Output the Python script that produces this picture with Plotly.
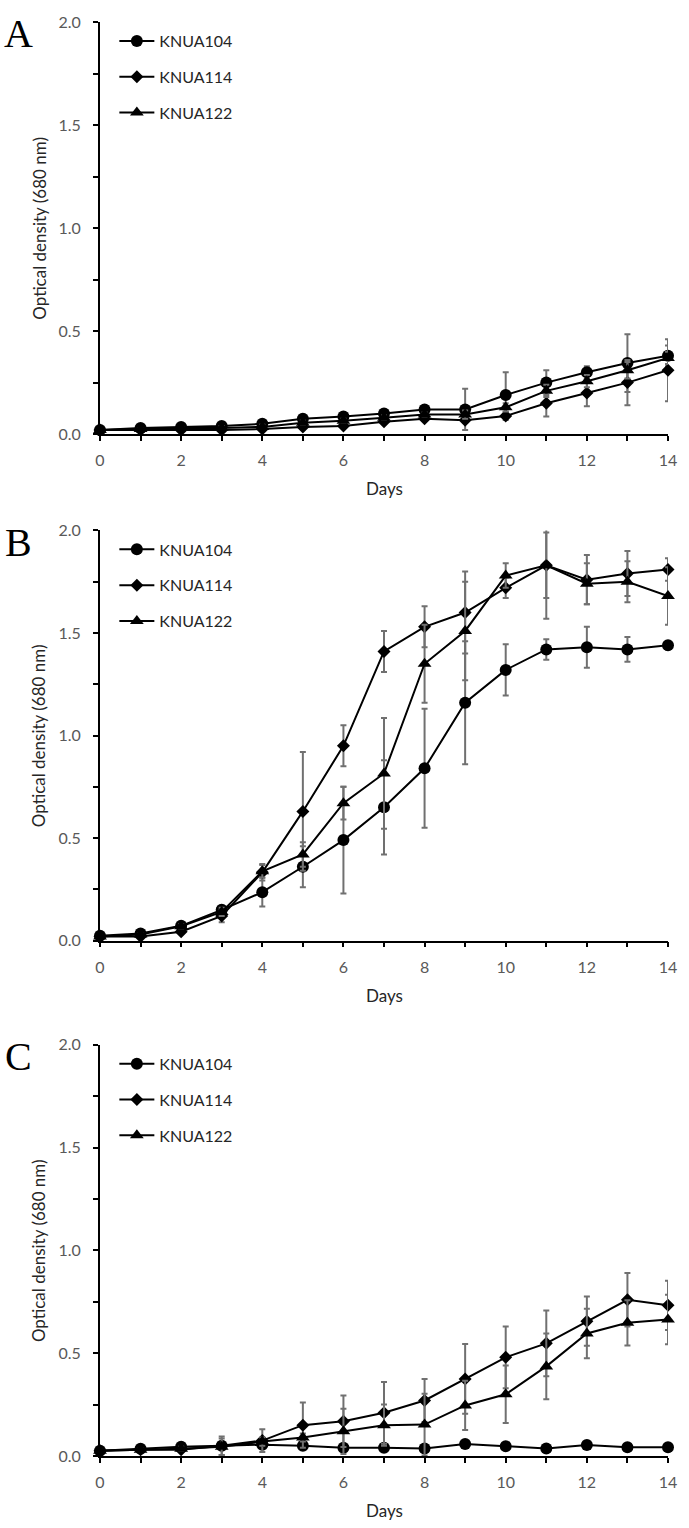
import plotly.graph_objects as go
from plotly.subplots import make_subplots

days = list(range(15))
strains = ["KNUA104", "KNUA114", "KNUA122"]
panels = ["A", "B", "C"]

# panel A
a_104 = [0.02, 0.03, 0.035, 0.04, 0.05, 0.075, 0.085, 0.10, 0.12, 0.12, 0.19, 0.25, 0.30, 0.345, 0.38]
a_104_err = [0.005, 0.005, 0.005, 0.01, 0.01, 0.01, 0.01, 0.01, 0.01, 0.10, 0.11, 0.06, 0.03, 0.14, 0.05]
a_114 = [0.02, 0.02, 0.02, 0.02, 0.025, 0.035, 0.04, 0.06, 0.075, 0.067, 0.088, 0.15, 0.20, 0.25, 0.31]
a_114_err = [0.005, 0.005, 0.005, 0.005, 0.005, 0.01, 0.01, 0.01, 0.01, 0.01, 0.02, 0.065, 0.065, 0.11, 0.15]
a_122 = [0.02, 0.025, 0.03, 0.03, 0.035, 0.055, 0.065, 0.08, 0.095, 0.095, 0.13, 0.21, 0.257, 0.31, 0.37]
a_122_err = [0.005, 0.005, 0.005, 0.01, 0.01, 0.01, 0.01, 0.01, 0.01, 0.02, 0.02, 0.03, 0.03, 0.04, 0.03]

# panel B
b_104 = [0.024, 0.035, 0.072, 0.15, 0.236, 0.36, 0.49, 0.65, 0.84, 1.16, 1.32, 1.42, 1.43, 1.42, 1.44]
b_104_err = [0.005, 0.005, 0.01, 0.02, 0.07, 0.10, 0.26, 0.23, 0.29, 0.30, 0.125, 0.05, 0.10, 0.06, 0.02]
b_114 = [0.02, 0.02, 0.043, 0.12, 0.333, 0.63, 0.95, 1.41, 1.53, 1.60, 1.72, 1.83, 1.76, 1.79, 1.81]
b_114_err = [0.005, 0.005, 0.01, 0.03, 0.04, 0.29, 0.10, 0.10, 0.10, 0.20, 0.05, 0.16, 0.12, 0.11, 0.055]
b_122 = [0.02, 0.03, 0.07, 0.14, 0.338, 0.42, 0.67, 0.815, 1.35, 1.51, 1.78, 1.83, 1.74, 1.75, 1.68]
b_122_err = [0.005, 0.005, 0.01, 0.02, 0.03, 0.06, 0.08, 0.27, 0.19, 0.24, 0.06, 0.26, 0.10, 0.10, 0.14]

# panel C
c_104 = [0.025, 0.035, 0.045, 0.05, 0.055, 0.05, 0.04, 0.04, 0.037, 0.058, 0.048, 0.037, 0.053, 0.042, 0.042]
c_104_err = [0.005, 0.005, 0.005, 0.01, 0.01, 0.01, 0.01, 0.01, 0.01, 0.01, 0.01, 0.01, 0.01, 0.01, 0.01]
c_114 = [0.025, 0.03, 0.03, 0.05, 0.075, 0.15, 0.169, 0.21, 0.27, 0.375, 0.48, 0.548, 0.656, 0.76, 0.733]
c_114_err = [0.005, 0.005, 0.01, 0.045, 0.055, 0.11, 0.125, 0.15, 0.105, 0.17, 0.15, 0.16, 0.12, 0.13, 0.12]
c_122 = [0.025, 0.03, 0.035, 0.045, 0.07, 0.09, 0.12, 0.15, 0.153, 0.246, 0.30, 0.436, 0.596, 0.648, 0.664]
c_122_err = [0.005, 0.005, 0.01, 0.04, 0.02, 0.02, 0.11, 0.10, 0.15, 0.12, 0.14, 0.16, 0.12, 0.11, 0.12]

series = [
    [(a_104, a_104_err), (a_114, a_114_err), (a_122, a_122_err)],
    [(b_104, b_104_err), (b_114, b_114_err), (b_122, b_122_err)],
    [(c_104, c_104_err), (c_114, c_114_err), (c_122, c_122_err)],
]
symbols = ["circle", "diamond", "triangle-up"]
msizes = [12, 10, 12]

W, H = 689, 1528
ML, MR, MT, MB = 100, 15, 12, 72
PW, PH = W - ML - MR, H - MT - MB
# pixel rows of each panel: (top = 2.0, bottom = 0.0)
panel_px = [(12, 427), (524, 937), (1042, 1456)]

def fy(px):
    return (H - MB - px) / PH

fig = make_subplots(rows=3, cols=1)

for r, group in enumerate(series, start=1):
    lg = "legend" if r == 1 else f"legend{r}"
    for k, (vals, err) in enumerate(group):
        fig.add_trace(go.Scatter(
            x=days, y=vals, name=strains[k], mode="lines+markers",
            line=dict(color="black", width=2),
            marker=dict(symbol=symbols[k], size=msizes[k], color="black"),
            error_y=dict(type="data", array=err, color="#707070", thickness=2, width=3),
            cliponaxis=False, legend=lg, legendgroup=f"{r}{k}",
        ), row=r, col=1)

tickfont = dict(family="Lato", size=16, color="#595959")
axis_common = dict(showline=True, linecolor="black", linewidth=1.8, ticks="outside",
                   tickcolor="black", tickwidth=1.5, ticklen=5, showgrid=False, zeroline=False,
                   tickfont=tickfont)

for r, (top, bot) in enumerate(panel_px, start=1):
    sfx = "" if r == 1 else str(r)
    fig.layout["xaxis" + sfx].update(domain=[0, 1], range=[0, 14], dtick=2, tick0=0,
                                     ticklabelstandoff=6,
                                     minor=dict(dtick=1, ticks="outside", ticklen=5,
                                                tickcolor="black", tickwidth=1.5),
                                     **axis_common)
    fig.layout["yaxis" + sfx].update(domain=[fy(bot), fy(top)], range=[0, 2], dtick=0.5,
                                     tickformat=".1f", ticklabelstandoff=9,
                                     minor=dict(dtick=0.25, ticks="outside", ticklen=5,
                                                tickcolor="black", tickwidth=1.5),
                                     **axis_common)
    leg = dict(x=14.5 / PW, y=fy(top + 2), xanchor="left", yanchor="top",
               font=dict(family="Lato", size=16, color="#262626"),
               bgcolor="rgba(0,0,0,0)", tracegroupgap=12, itemwidth=35)
    fig.layout["legend" if r == 1 else f"legend{r}"] = leg

annotations = []
for r, (top, bot) in enumerate(panel_px):
    annotations.append(dict(text=panels[r], xref="paper", yref="paper",
                            x=(18 - ML) / PW, y=fy(top + 12),
                            xanchor="center", yanchor="middle", showarrow=False,
                            font=dict(family="Liberation Serif", size=40, color="black")))
    annotations.append(dict(text="Optical density (680 nm)", xref="paper", yref="paper",
                            x=(38 - ML) / PW, y=fy((top + bot) / 2),
                            xanchor="center", yanchor="middle", textangle=-90, showarrow=False,
                            font=dict(family="Lato", size=17, color="#262626")))
    annotations.append(dict(text="Days", xref="paper", yref="paper",
                            x=0.5, y=fy(bot + 55),
                            xanchor="center", yanchor="middle", showarrow=False,
                            font=dict(family="Lato", size=17, color="#262626")))

fig.update_layout(
    width=W, height=H,
    margin=dict(l=ML, r=MR, t=MT, b=MB),
    paper_bgcolor="white", plot_bgcolor="white",
    annotations=annotations,
    showlegend=True,
)

fig.write_html("out.html", config={"displayModeBar": False},
               post_script="document.body.style.margin='0px';")
